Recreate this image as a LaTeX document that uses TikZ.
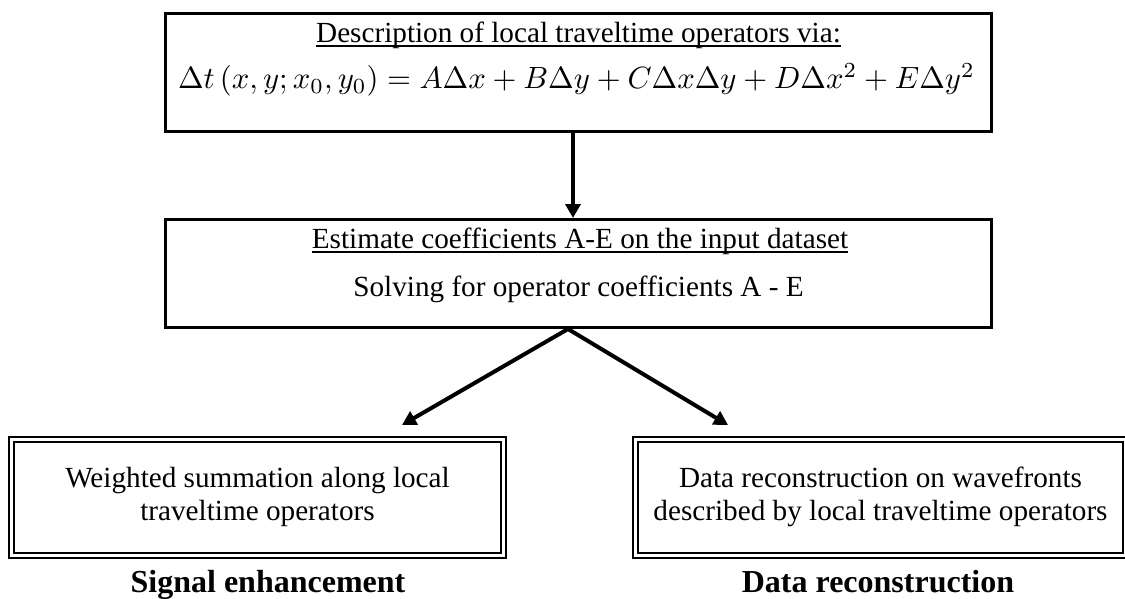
\documentclass[tikz,border=0pt]{standalone}
\usepackage{graphicx}
\usepackage[no-math]{fontspec}
\setmainfont{Liberation Serif}
\usetikzlibrary{arrows.meta}
% underline drawn close to the baseline, through the descenders
\newcommand{\lowrule}[1]{\setbox0\hbox{#1}\rlap{\vrule height -1.2pt depth 1.9pt width \wd0}\box0}
\begin{document}
\begin{tikzpicture}[x=0.5pt,y=-0.5pt,
  solidbox/.style={draw, line width=1.5pt, inner sep=0pt, minimum width=413pt},
  doublebox/.style={draw, line width=1pt, double, double distance=1.2pt,
    inner sep=0pt, minimum height=58pt},
  txt/.style={anchor=base, inner sep=0pt, font=\fontsize{14.6}{17}\selectfont},
  boldtxt/.style={anchor=base, inner sep=0pt, font=\fontsize{16}{18}\selectfont\bfseries},
  mathtxt/.style={anchor=base, inner sep=0pt},
  flow/.style={line width=2pt, -{Triangle[length=7pt,width=7.5pt]}}]
\useasboundingbox (0,0) rectangle (1125,599);

% operator description
\node[solidbox, minimum height=59pt] (desc) at (578.5,72.5) {};
\node[txt] (desctitle) at (578.5,43) {\lowrule{Description of local traveltime operators via:}};
\node[mathtxt] (descformula) at (576.5,89)
  {\scalebox{1.536}{$\Delta t\left(x,y;x_0,y_0\right)=A\Delta x+B\Delta y+C\Delta x\Delta y+D\Delta x^2+E\Delta y^2$}};

% coefficient estimation
\node[solidbox, minimum height=54pt] (coef) at (578.5,273.5) {};
\node[txt] (coeftitle) at (580,249) {\lowrule{Estimate coefficients A-E on the input dataset}};
\node[txt] (coefline) at (578.5,296) {Solving for operator coefficients A - E};

% applications
\node[doublebox, minimum width=246pt] (sum) at (257.5,497.5) {};
\node[txt] (sum1) at (257.5,487) {Weighted summation along local};
\node[txt] (sum2) at (257.5,520) {traveltime operators};
\node[boldtxt] (sumlabel) at (268,592) {Signal enhancement};

\node[doublebox, minimum width=245pt] (rec) at (880.5,497.5) {};
\node[txt] (rec1) at (880.5,487) {Data reconstruction on wavefronts};
\node[txt] (rec2) at (880.5,520) {described by local traveltime operators};
\node[boldtxt] (reclabel) at (878,592) {Data reconstruction};

% connectors
\draw[flow] ([xshift=-2.75pt]desc.south) -- ([xshift=-2.75pt]coef.north);
\draw[flow] ([xshift=-5.25pt]coef.south) -- ([shift={(144.5,-13.5)}]sum.north);
\draw[flow] ([xshift=-5.25pt]coef.south) -- ([shift={(-152.5,-13.5)}]rec.north);
\end{tikzpicture}
\end{document}
